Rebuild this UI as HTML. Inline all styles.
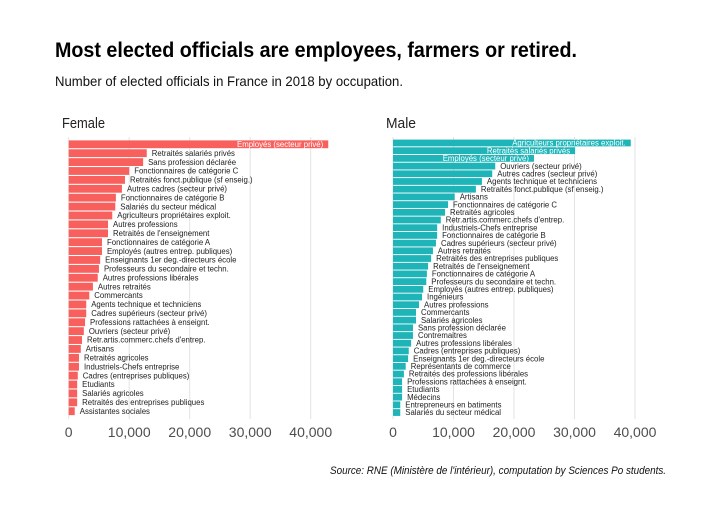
<!DOCTYPE html>
<html><head><meta charset="utf-8"><style>
body{margin:0;background:#fff}
svg{display:block;font-family:"Liberation Sans",sans-serif}
</style></head><body>
<svg id="chart" width="705" height="519" viewBox="0 0 705 519" xmlns="http://www.w3.org/2000/svg">
<text x="55" y="57" font-size="21" font-weight="bold" fill="#000" textLength="522" lengthAdjust="spacingAndGlyphs">Most elected officials are employees, farmers or retired.</text>
<text x="55" y="86" font-size="14" fill="#111" textLength="348" lengthAdjust="spacingAndGlyphs">Number of elected officials in France in 2018 by occupation.</text>
<text x="62" y="128" font-size="15" fill="#222" textLength="43" lengthAdjust="spacingAndGlyphs">Female</text>
<text x="386" y="128" font-size="15" fill="#222" textLength="30" lengthAdjust="spacingAndGlyphs">Male</text>
<text x="666" y="474" font-size="11" font-style="italic" fill="#111" text-anchor="end" textLength="336" lengthAdjust="spacingAndGlyphs">Source: RNE (Ministère de l'intérieur), computation by Sciences Po students.</text>
<g id="panels"></g>
</svg>
<script>
const femaleLabels=["Employés (secteur privé)","Retraités salariés privés","Sans profession déclarée","Fonctionnaires de catégorie C","Retraités fonct.publique (sf enseig.)","Autres cadres (secteur privé)","Fonctionnaires de catégorie B","Salariés du secteur médical","Agriculteurs propriétaires exploit.","Autres professions","Retraités de l'enseignement","Fonctionnaires de catégorie A","Employés (autres entrep. publiques)","Enseignants 1er deg.-directeurs école","Professeurs du secondaire et techn.","Autres professions libérales","Autres retraités","Commercants","Agents technique et techniciens","Cadres supérieurs (secteur privé)","Professions rattachées à enseignt.","Ouvriers (secteur privé)","Retr.artis.commerc.chefs d'entrep.","Artisans","Retraités agricoles","Industriels-Chefs entreprise","Cadres (entreprises publiques)","Etudiants","Salariés agricoles","Retraités des entreprises publiques","Assistantes sociales"];
const femaleValues=[42900,12900,12300,10000,9300,8800,7800,7700,7200,6500,6500,5500,5500,5200,5000,4800,4000,3400,2900,2900,2700,2500,2200,2000,1700,1700,1500,1400,1400,1400,1000];
const maleLabels=["Agriculteurs propriétaires exploit.","Retraités salariés privés","Employés (secteur privé)","Ouvriers (secteur privé)","Autres cadres (secteur privé)","Agents technique et techniciens","Retraités fonct.publique (sf enseig.)","Artisans","Fonctionnaires de catégorie C","Retraités agricoles","Retr.artis.commerc.chefs d'entrep.","Industriels-Chefs entreprise","Fonctionnaires de catégorie B","Cadres supérieurs (secteur privé)","Autres retraités","Retraités des entreprises publiques","Retraités de l'enseignement","Fonctionnaires de catégorie A","Professeurs du secondaire et techn.","Employés (autres entrep. publiques)","Ingénieurs","Autres professions","Commercants","Salariés agricoles","Sans profession déclarée","Contremaitres","Autres professions libérales","Cadres (entreprises publiques)","Enseignants 1er deg.-directeurs école","Représentants de commerce","Retraités des professions libérales","Professions rattachées à enseignt.","Etudiants","Médecins","Entrepreneurs en batiments","Salariés du secteur médical"];
const maleValues=[39300,30100,23300,16900,16400,14700,13700,10200,9100,8600,7900,7300,7300,7100,6600,6300,5800,5600,5500,5000,4800,4300,3800,3800,3300,3300,3000,2600,2500,2100,1800,1500,1500,1500,1200,1200];
const xTicks=[0,10000,20000,30000,40000];
const tickText=["0","10,000","20,000","30,000","40,000"];
const NS="http://www.w3.org/2000/svg";
const root=document.getElementById('panels');
function mk(tag,attrs,parent){const e=document.createElementNS(NS,tag);for(const k in attrs)e.setAttribute(k,attrs[k]);parent.appendChild(e);return e;}
function panel(name,labels,values,x0,color,insideCount){
  const g=mk('g',{},root);
  
  
  const sx=v=>x0+v*0.00605;
  const top=134.5,bottom=421;
  const n=labels.length;
  const pitch=(bottom-top)/(n+1.2);
  const sy=i=>top+pitch*(0.6+i+0.5);
  xTicks.forEach((t,i)=>{
    const l=mk('line',{x1:sx(t),x2:sx(t),y1:137,y2:419,stroke:'#e3e3e3','stroke-width':1},g);
    
    
    const tx=mk('text',{x:sx(t),y:437,'font-size':14,fill:'#4d4d4d','text-anchor':'middle'},g);
    
    
    tx.textContent=tickText[i];
  });
  values.forEach((v,i)=>{
    const h=pitch*0.88;
    const r=mk('rect',{x:sx(0),y:sy(i)-h/2,width:sx(v)-sx(0),height:h,fill:color},g);
    
    
    const inside=i<insideCount;
    const t=mk('text',{x:inside?sx(v)-5:sx(v)+5,y:sy(i)+2.7,'font-size':7.8,fill:inside?'#fff':'#222','text-anchor':inside?'end':'start'},g);
    
    
    t.textContent=labels[i];
  });
}
panel('female',femaleLabels,femaleValues,68.7,'#f8605e',1);
panel('male',maleLabels,maleValues,393,'#1eb4b8',3);
</script>
</body></html>
